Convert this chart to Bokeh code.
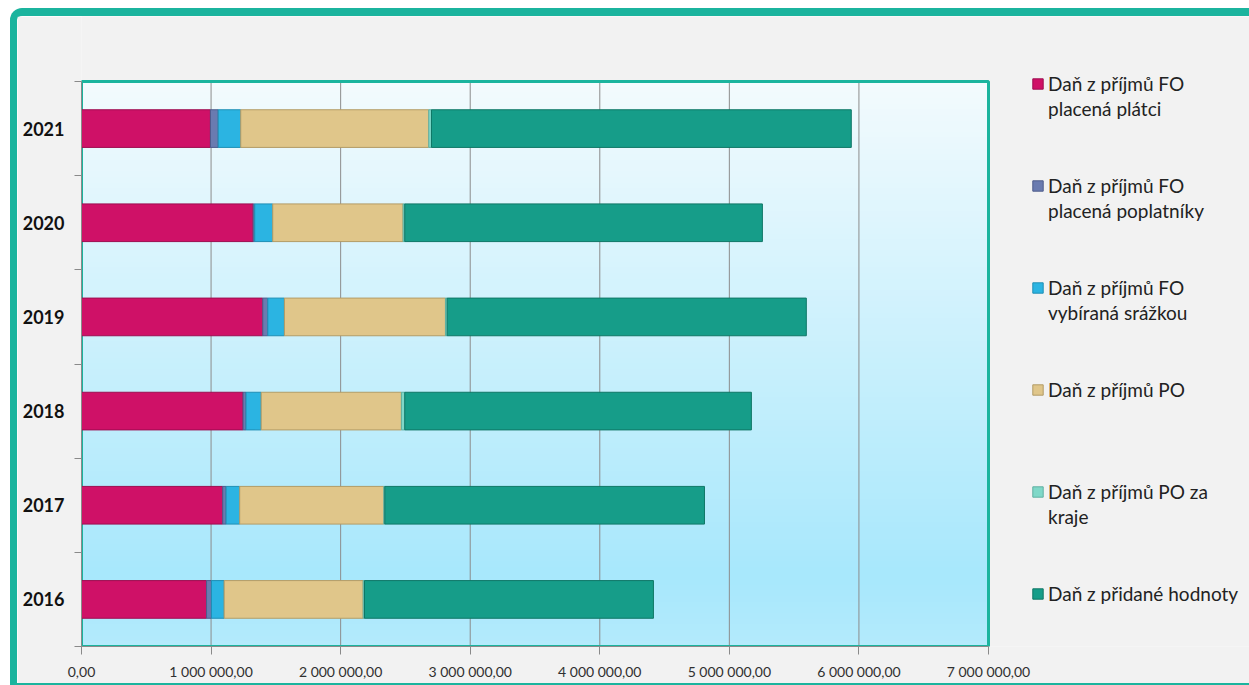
import numpy as np
from bokeh.plotting import figure
from bokeh.models import (Range1d, FixedTicker, ColumnDataSource, Legend, LegendItem)
from bokeh.embed import file_html
from bokeh.resources import INLINE

# ---------------- data ----------------
years = ["2016", "2017", "2018", "2019", "2020", "2021"]
fo_platci = [965000, 1090000, 1247000, 1399000, 1325000, 995000]
fo_poplatnici = [38000, 26000, 23000, 39000, 12000, 60000]
fo_srazkou = [98000, 105000, 117000, 128000, 139000, 174000]
po = [1073000, 1112000, 1082000, 1243000, 1006000, 1451000]
po_kraje = [10000, 8000, 26000, 13000, 13000, 21000]
dph = [2230000, 2467000, 2675000, 2772000, 2760000, 3240000]

series_keys = ["fo_platci", "fo_poplatnici", "fo_srazkou", "po", "po_kraje", "dph"]
series_names = [
    ["Daň z příjmů FO", "placená plátci"],
    ["Daň z příjmů FO", "placená poplatníky"],
    ["Daň z příjmů FO", "vybíraná srážkou"],
    ["Daň z příjmů PO"],
    ["Daň z příjmů PO za", "kraje"],
    ["Daň z přidané hodnoty"],
]
x_ticks = [0, 1000000, 2000000, 3000000, 4000000, 5000000, 6000000, 7000000]
x_tick_labels = ["0,00", "1 000 000,00", "2 000 000,00", "3 000 000,00",
                 "4 000 000,00", "5 000 000,00", "6 000 000,00", "7 000 000,00"]

# ---------------- layout (page pixels) ----------------
PAGE_W, PAGE_H = 1249, 685
BORDER_L, BORDER_T, BORDER_B = 7, 8, 2
CANVAS_X0, CANVAS_Y0 = 17, 16          # inside the teal page frame
FIG_W = PAGE_W - (CANVAS_X0 - BORDER_L)    # border-box width
FIG_H = PAGE_H - (CANVAS_Y0 - BORDER_T)    # border-box height
AREA_L, AREA_R, AREA_T, AREA_B = 81, 988, 81, 646   # plot area

fill_colors = ["#cf1167", "#6a7bb0", "#2bb4e2", "#e0c68a", "#7fd8c8", "#169d89"]
line_colors = ["#9e0d50", "#4d5c8c", "#1f8fb5", "#b39c66", "#5fb0a2", "#0f7766"]
teal = "#1bb49e"
gray_bg = "#f2f2f2"

n_cat = len(years)
frame_right_page = CANVAS_X0 + FIG_W
x_end = x_ticks[-1] * (frame_right_page - AREA_L) / (AREA_R - AREA_L)
y_end = n_cat + (AREA_T - CANVAS_Y0) * n_cat / (AREA_B - AREA_T)

y_centers = [i + 0.5 for i in range(n_cat)]
source = ColumnDataSource(dict(
    y=y_centers, fo_platci=fo_platci, fo_poplatnici=fo_poplatnici,
    fo_srazkou=fo_srazkou, po=po, po_kraje=po_kraje, dph=dph))

p = figure(width=FIG_W, height=FIG_H, output_backend="svg", toolbar_location=None,
           x_range=Range1d(x_ticks[0], x_end), y_range=Range1d(0, y_end),
           min_border_left=AREA_L - CANVAS_X0, min_border_right=0,
           min_border_top=0, min_border_bottom=FIG_H - (AREA_B - CANVAS_Y0))
p.border_fill_color = gray_bg
p.background_fill_color = gray_bg
p.outline_line_alpha = 0
p.styles = {"margin-left": f"{CANVAS_X0 - BORDER_L}px", "margin-top": f"{CANVAS_Y0 - BORDER_T}px",
            "border-left": f"{BORDER_L}px solid {teal}", "border-top": f"{BORDER_T}px solid {teal}",
            "border-bottom": f"{BORDER_B}px solid {teal}", "border-top-left-radius": "12px"}

# gradient background of the plot area
n = 100
t = np.linspace(0, 1, n)  # 0 bottom -> 1 top
top = np.array([0xf3, 0xfb, 0xfe]); mid = np.array([0xa8, 0xe8, 0xfc]); bot = np.array([0xb4, 0xeb, 0xfc])
rows = []
for v in t:
    if v < 0.12:
        c = bot + (mid - bot) * (v / 0.12)
    else:
        c = mid + (top - mid) * ((v - 0.12) / 0.88)
    rows.append(c)
rows = np.array(rows).astype(np.uint32)
img = np.empty((n, 1), dtype=np.uint32)
view = img.view(dtype=np.uint8).reshape((n, 1, 4))
view[:, 0, 0] = rows[:, 0]; view[:, 0, 1] = rows[:, 1]; view[:, 0, 2] = rows[:, 2]; view[:, 0, 3] = 255
p.image_rgba(image=[img], x=x_ticks[0], y=0, dw=x_ticks[-1] - x_ticks[0], dh=n_cat, level="image")

# vertical grid lines limited to the plot area
p.segment(x0=x_ticks, y0=[0] * len(x_ticks), x1=x_ticks, y1=[n_cat] * len(x_ticks),
          line_color="#8c8c8c", line_width=1)

# plot-area outline
p.quad(left=[x_ticks[0]], right=[x_ticks[-1]], bottom=[0], top=[n_cat],
       fill_alpha=0, line_color=teal, line_width=3)

# bars
bars = p.hbar_stack(series_keys, y="y", height=0.4, source=source,
                    fill_color=fill_colors, line_color=line_colors, line_width=1)
dummy = p.hbar(y=[], right=[], height=0.1, fill_alpha=0, line_alpha=0)

# axes
p.xaxis.bounds = (x_ticks[0], x_ticks[-1])
p.xaxis.ticker = FixedTicker(ticks=x_ticks, minor_ticks=[])
p.xaxis.major_label_overrides = {k: v for k, v in zip(x_ticks, x_tick_labels)}
p.xaxis.axis_line_color = "#8a8a8a"
p.xaxis.major_tick_line_color = "#8a8a8a"
p.xaxis.major_tick_out = 8
p.xaxis.major_tick_in = 0
p.xaxis.major_label_standoff = 8
p.xaxis.major_label_text_font = "Lato"
p.xaxis.major_label_text_font_size = "14px"
p.xaxis.major_label_text_color = "#303030"

p.yaxis.bounds = (0, n_cat)
p.yaxis.ticker = FixedTicker(ticks=y_centers, minor_ticks=list(range(n_cat + 1)))
p.yaxis.major_label_overrides = {k: v for k, v in zip(y_centers, years)}
p.yaxis.axis_line_color = "#8a8a8a"
p.yaxis.major_tick_out = 0
p.yaxis.major_tick_in = 0
p.yaxis.minor_tick_out = 7
p.yaxis.minor_tick_in = 0
p.yaxis.minor_tick_line_color = "#8a8a8a"
p.yaxis.major_label_standoff = 10
p.yaxis.major_label_text_font = "Lato"
p.yaxis.major_label_text_font_style = "bold"
p.yaxis.major_label_text_font_size = "18px"
p.yaxis.major_label_text_color = "#111111"

p.xgrid.visible = False
p.ygrid.visible = False

# legend: one legend per entry, inside the (extended) frame
ROW_H = 25
for k, lines in enumerate(series_names):
    items = [LegendItem(label=txt, renderers=[bars[k] if j == 0 else dummy])
             for j, txt in enumerate(lines)]
    center1 = 83 + 102 * k
    bottom_page = center1 - ROW_H / 2 + ROW_H * len(lines)
    lg = Legend(items=items, location=(1031 - AREA_L, AREA_B - bottom_page),
                orientation="vertical", glyph_width=13, glyph_height=13,
                label_height=ROW_H, spacing=0, label_standoff=4, padding=0, margin=0,
                border_line_alpha=0, background_fill_alpha=0,
                label_text_font="Lato", label_text_font_size="19px",
                label_text_color="#222222")
    p.add_layout(lg)

open("out.html", "w").write(file_html(p, INLINE))
